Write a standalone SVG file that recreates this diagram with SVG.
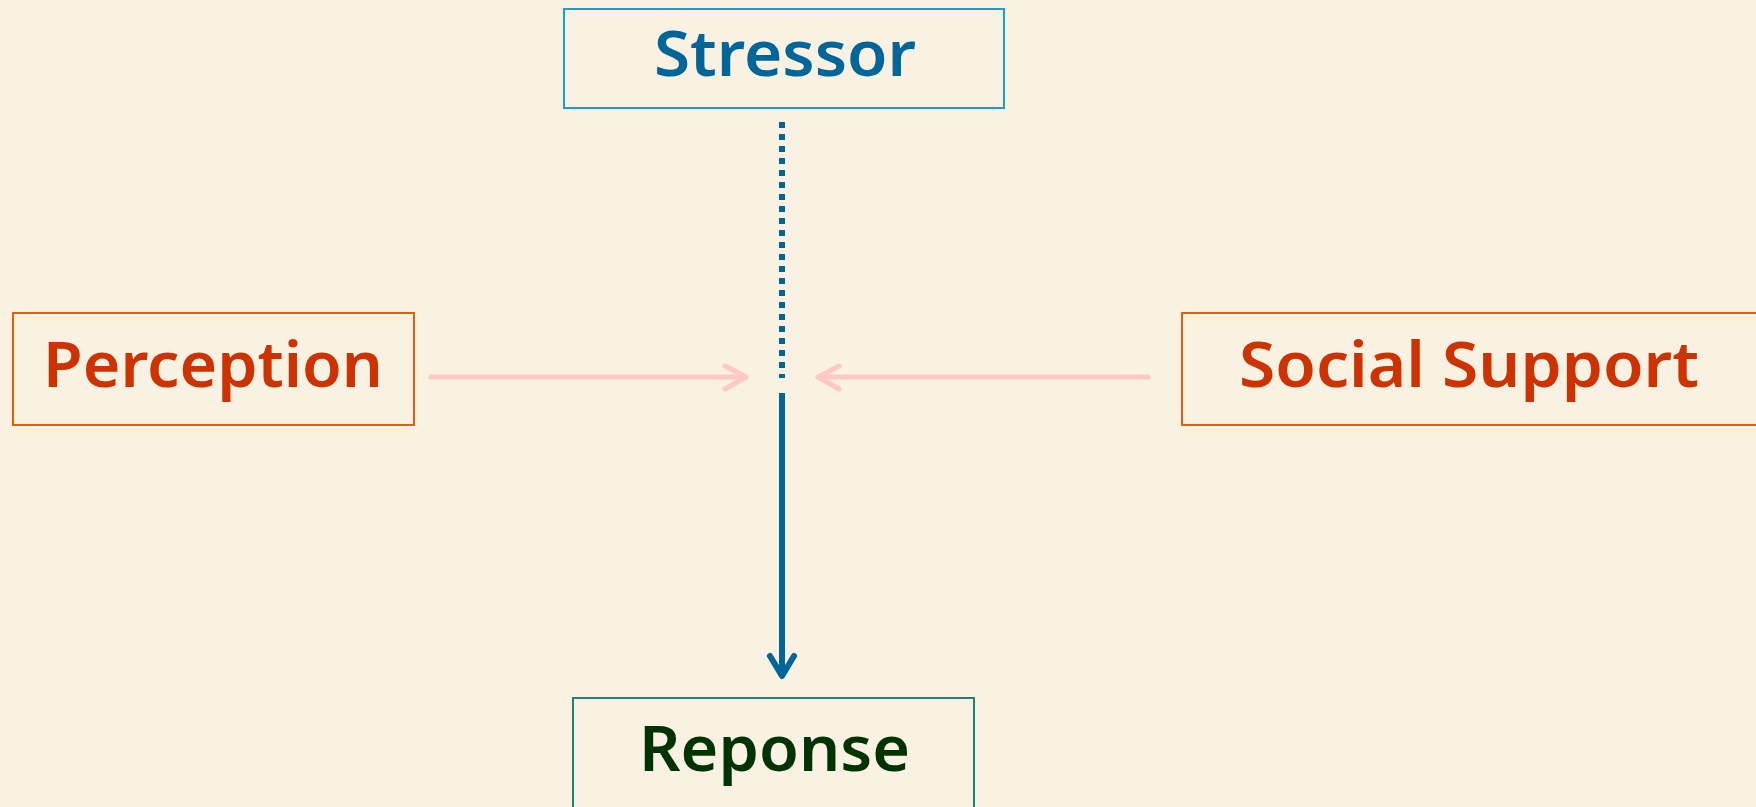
<svg xmlns="http://www.w3.org/2000/svg" width="1756" height="807" viewBox="0 0 1756 807">
<style>
.box{fill:none;stroke-width:2}
.lbl{font-family:"Noto Sans","Liberation Sans",Arial,sans-serif;font-weight:600;font-size:63px;text-anchor:middle}
.pink{stroke:#ffc8c8;stroke-width:5;fill:none;stroke-linecap:round;stroke-linejoin:round}
.blue{stroke:#00669a;stroke-width:6;fill:none}
</style>
<rect x="0" y="0" width="1756" height="807" fill="#f9f1e2"/>
<g id="connectors">
<line class="blue" x1="782" y1="122" x2="782" y2="378" stroke-dasharray="6 6"/>
<line class="blue" x1="782" y1="393" x2="782" y2="676"/>
<polyline class="blue" points="770,656 782,676 794,656" stroke-linecap="round" stroke-linejoin="round" stroke-width="5"/>
<line class="pink" x1="431" y1="377" x2="746" y2="377"/>
<polyline class="pink" points="725,366 746,377 725,389"/>
<line class="pink" x1="1148" y1="377" x2="818" y2="377"/>
<polyline class="pink" points="839,366 818,377 839,389"/>
</g>
<g id="stressor">
<rect class="box" x="564" y="9" width="440" height="99" stroke="#1a9fcc"/>
<text class="lbl" x="785" y="76" fill="#00669a" textLength="262" lengthAdjust="spacingAndGlyphs">Stressor</text>
</g>
<g id="perception">
<rect class="box" x="13" y="313" width="401" height="112" stroke="#e06010"/>
<text class="lbl" x="213" y="387" fill="#cc3300" textLength="340" lengthAdjust="spacingAndGlyphs">Perception</text>
</g>
<g id="social-support">
<rect class="box" x="1182" y="313" width="600" height="112" stroke="#e06010"/>
<text class="lbl" x="1469" y="387" fill="#cc3300" textLength="460" lengthAdjust="spacingAndGlyphs">Social Support</text>
</g>
<g id="reponse">
<rect class="box" x="573" y="698" width="401" height="130" stroke="#1a8080"/>
<text class="lbl" x="774.5" y="771" fill="#003300" textLength="271" lengthAdjust="spacingAndGlyphs">Reponse</text>
</g>
</svg>
